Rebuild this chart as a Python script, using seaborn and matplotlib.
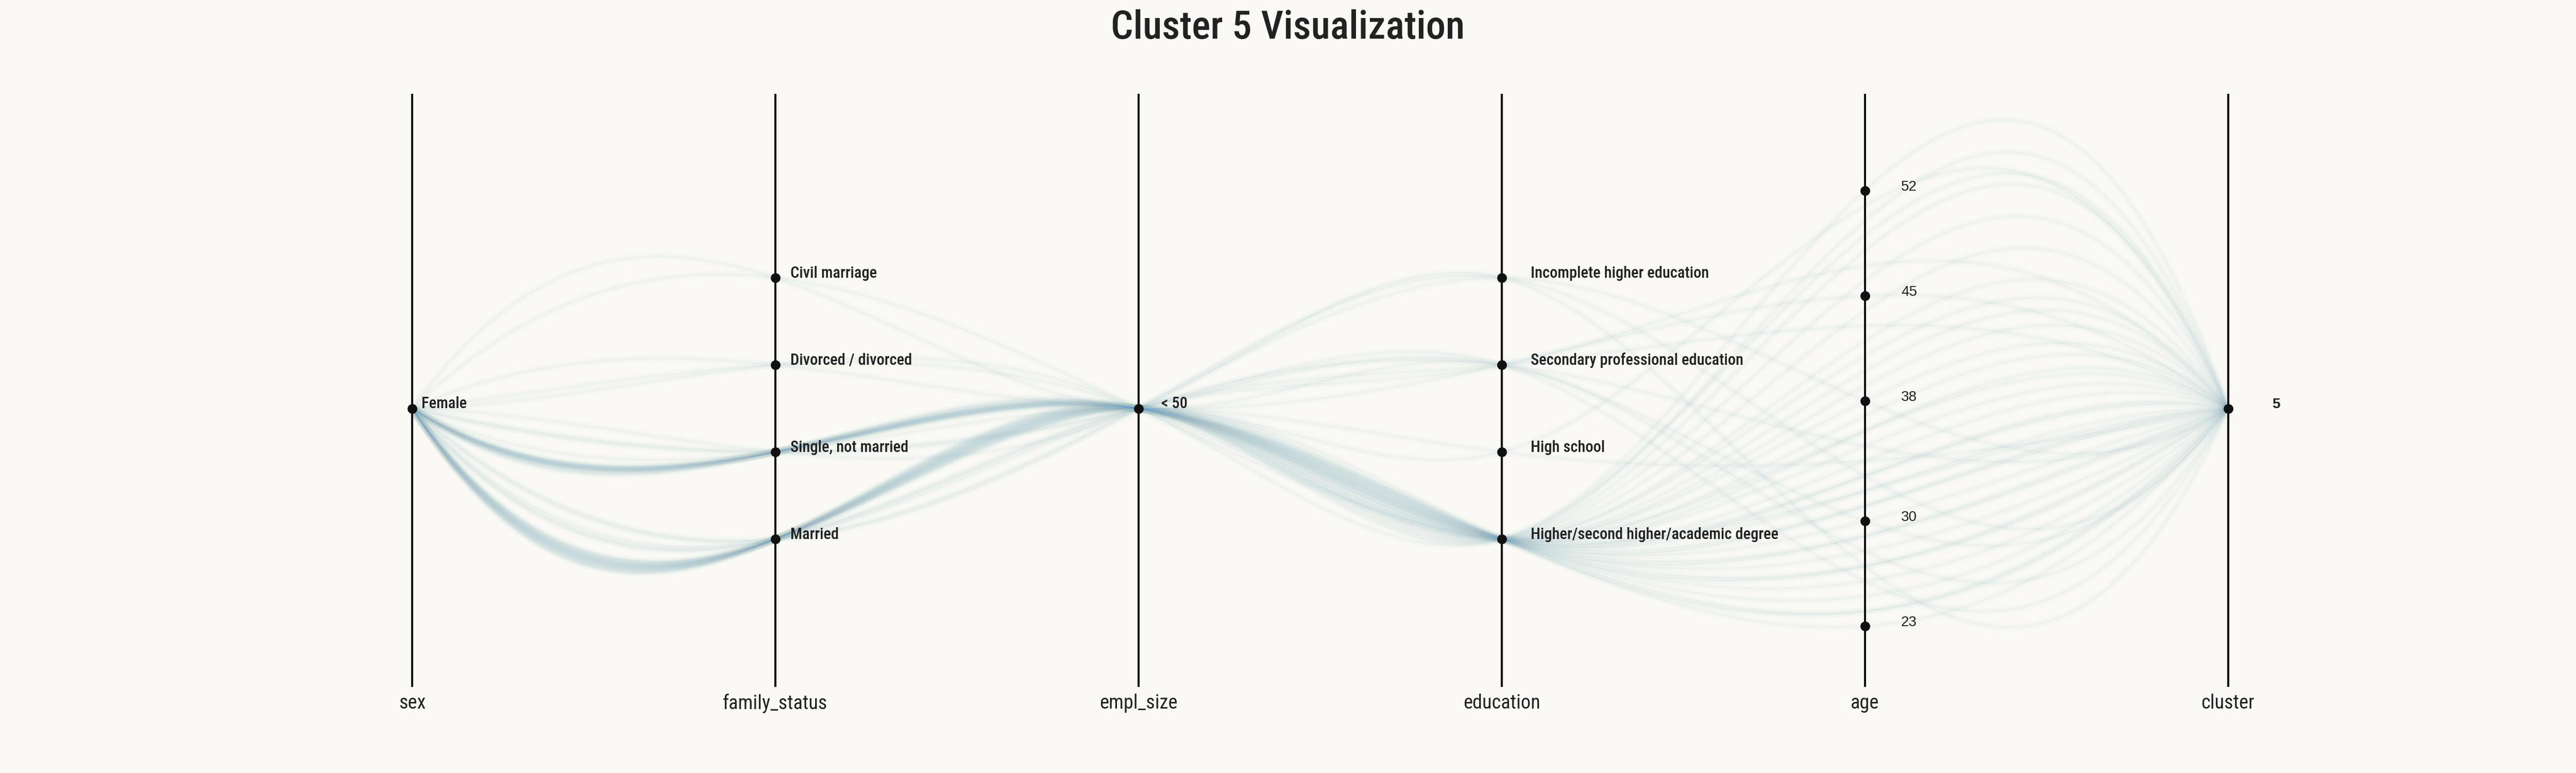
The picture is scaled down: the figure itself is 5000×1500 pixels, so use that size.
import numpy as np
import pandas as pd
import matplotlib
matplotlib.use("Agg")
import matplotlib.pyplot as plt
import seaborn as sns

# ---------------- data ----------------
axis_names = ["sex", "family_status", "empl_size", "education", "age", "cluster"]

sex_levels = ["Female"]
family_levels = ["Married", "Single, not married", "Divorced / divorced", "Civil marriage"]  # bottom -> top
empl_levels = ["< 50"]
edu_levels = ["Higher/second higher/academic degree", "High school",
              "Secondary professional education", "Incomplete higher education"]  # bottom -> top
age_ticks = [23, 30, 38, 45, 52]
cluster_levels = ["5"]

family_status = (["Married"] * 16 + ["Single, not married"] * 14 +
                 ["Married"] * 3 + ["Single, not married"] * 2 + ["Divorced / divorced"] + ["Civil marriage"] +
                 ["Married", "Single, not married", "Married"] +
                 ["Divorced / divorced"] * 2 + ["Civil marriage"] +
                 ["Married", "Single, not married"])
education = (["Higher/second higher/academic degree"] * 30 +
             ["Secondary professional education"] * 7 +
             ["Incomplete higher education"] * 3 +
             ["Higher/second higher/academic degree"] * 3 +
             ["High school"] * 2)
age = ([24, 27, 29, 31, 33, 34, 36, 37, 39, 40, 42, 44, 46, 48, 50, 52] +
       [23, 24, 25, 26, 27, 28, 29, 30, 31, 32, 33, 35, 38, 41] +
       [35, 43, 47] + [26, 30] + [45] + [28] +
       [38, 27, 33] +
       [49, 36] + [32] +
       [51, 34])
n_rows = len(age)
sex = ["Female"] * n_rows
empl_size = ["< 50"] * n_rows
cluster = ["5"] * n_rows

# ---------------- style ----------------
BG = "#faf9f5"
TXT = "#222222"
sns.set_theme(style="white")
NARROW = ["Roboto Condensed", "Roboto", "DejaVu Sans"]
ARIAL = ["Liberation Sans", "DejaVu Sans"]
plt.rcParams["font.family"] = NARROW
plt.rcParams["figure.facecolor"] = BG
plt.rcParams["axes.facecolor"] = BG


def cat_pos(levels, v):
    k = len(levels)
    if k == 1:
        return 1.5
    return levels.index(v) * 3.0 / (k - 1)


def age_pos(a):
    return -1.0 + 5.0 * (a - min(age_ticks)) / (max(age_ticks) - min(age_ticks))


def nak_spline(y, n_per_seg=60):
    y = np.asarray(y, float)
    n = len(y)
    A = np.zeros((n, n))
    b = np.zeros(n)
    A[0, 0:3] = [1, -2, 1]
    A[-1, -3:] = [1, -2, 1]
    for i in range(1, n - 1):
        A[i, i - 1:i + 2] = [1, 4, 1]
        b[i] = 6 * (y[i - 1] - 2 * y[i] + y[i + 1])
    M = np.linalg.solve(A, b)
    xs, ys = [], []
    t = np.linspace(0, 1, n_per_seg, endpoint=False)
    for i in range(n - 1):
        s = ((1 - t) * y[i] + t * y[i + 1]
             + ((1 - t) ** 3 - (1 - t)) * M[i] / 6 + (t ** 3 - t) * M[i + 1] / 6)
        xs.append(i + t)
        ys.append(s)
    xs.append([n - 1])
    ys.append([y[-1]])
    return np.concatenate(xs), np.concatenate(ys)


recs = []
for r in range(n_rows):
    u = [cat_pos(sex_levels, sex[r]), cat_pos(family_levels, family_status[r]),
         cat_pos(empl_levels, empl_size[r]), cat_pos(edu_levels, education[r]),
         age_pos(age[r]), cat_pos(cluster_levels, cluster[r])]
    xs, ys = nak_spline(u)
    recs.append(pd.DataFrame({"x": xs, "y": ys, "row": r}))
df = pd.concat(recs, ignore_index=True)

# ---------------- figure ----------------
fig = plt.figure(figsize=(25, 7.5), dpi=200)
ax = fig.add_axes([0, 0, 1, 1])
ax.set_xlim(-800 / 704.9, (5000 - 800) / 704.9)
ax.set_ylim(-(1500 - 1046) / 169.0, 1046 / 169.0)
ax.axis("off")

layers = [("#a3c9c0", 5.2, 0.038), ("#a3c9c0", 2.4, 0.028), ("#5a80e6", 1.1, 0.032)]
for col, lw, al in layers:
    sns.lineplot(data=df, x="x", y="y", units="row", estimator=None, sort=False,
                 color=col, lw=lw, alpha=al, ax=ax, legend=False, solid_capstyle="round")

y_lo, y_hi = -1.698, 5.112
ax.vlines(range(len(axis_names)), y_lo, y_hi, color="#111111", lw=1.45, zorder=5)

label_dx = [0.026, 0.041, 0.062, 0.080, 0.100, 0.121]
axis_levels = [sex_levels, family_levels, empl_levels, edu_levels, None, cluster_levels]
for i, levels in enumerate(axis_levels):
    if levels is None:
        pos = [age_pos(a) for a in age_ticks]
        labs = [str(a) for a in age_ticks]
        fam, wt, fs = ARIAL, "normal", 10
    else:
        pos = [cat_pos(levels, v) for v in levels]
        labs = list(levels)
        fam, wt, fs = (ARIAL, "bold", 10) if i == 5 else (NARROW, "medium", 11)
    ax.scatter([i] * len(pos), pos, s=6.8 ** 2, color="#111111", zorder=6, linewidths=0)
    for p, l in zip(pos, labs):
        ax.text(i + label_dx[i], p, l, ha="left", va="baseline", fontsize=fs,
                family=fam, weight=wt, color=TXT, zorder=7)
    ax.text(i, -1.775, axis_names[i], ha="center", va="top", fontsize=13.8,
            family=NARROW, color=TXT)

fig.text(0.5, 1 - 54 / 1500, "Cluster 5 Visualization", ha="center", va="center",
         fontsize=27.5, family=NARROW, weight="medium", color=TXT)

fig.savefig("out.png", dpi=200, facecolor=BG)
